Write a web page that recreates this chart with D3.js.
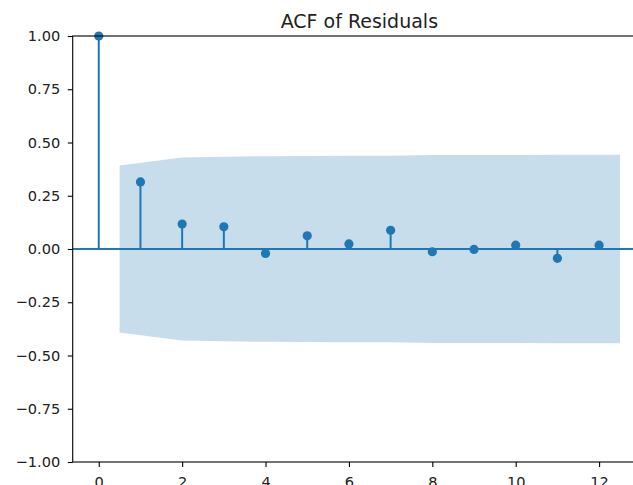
<!DOCTYPE html>
<html>
<head>
<meta charset="utf-8">
<script src="https://cdn.jsdelivr.net/npm/d3@7"></script>
<style>
  body { margin: 0; background: #fff; }
  svg { display: block; font-family: "DejaVu Sans", sans-serif; }
</style>
</head>
<body>
<div id="chart"></div>
<script>
// autocorrelation values
const lags = [0, 1, 2, 3, 4, 5, 6, 7, 8, 9, 10, 11, 12]
const acf = [1.0, 0.315, 0.117, 0.104, -0.021, 0.062, 0.024, 0.088, -0.013, -0.002, 0.018, -0.044, 0.018]
// confidence band half-width (x positions 0.5, 2..11, 12.5)
const bandX = [0.5, 2, 3, 4, 5, 6, 7, 8, 9, 10, 11, 12.5]
const bandHalf = [0.392, 0.430, 0.433, 0.436, 0.437, 0.438, 0.438, 0.441, 0.441, 0.441, 0.442, 0.442]
const yTicks = [-1, -0.75, -0.5, -0.25, 0, 0.25, 0.5, 0.75, 1]
const xTicks = [0, 2, 4, 6, 8, 10, 12]

const W = 633, H = 485
const margin = {top: 36, left: 72.7, bottom: 23, right: -13}
const width = W - margin.left - margin.right
const height = H - margin.top - margin.bottom
const blue = '#1f77b4'

const svg = d3.select('#chart').append('svg')
  .attr('width', W).attr('height', H)

const g = svg.append('g')
  .attr('transform', 'translate(' + margin.left + ',' + margin.top + ')')

const x = d3.scaleLinear().domain([-0.625, 13.125]).range([0, width])
const y = d3.scaleLinear().domain([-1, 1]).range([height, 0])

// stems
g.selectAll('line.stem').data(lags).enter().append('line')
  .attr('class', 'stem')
  .attr('x1', d => x(d)).attr('x2', d => x(d))
  .attr('y1', y(0)).attr('y2', (d, i) => y(acf[i]))
  .attr('stroke', blue).attr('stroke-width', 2)

// zero line
g.append('line')
  .attr('x1', 0).attr('x2', width)
  .attr('y1', y(0)).attr('y2', y(0))
  .attr('stroke', blue).attr('stroke-width', 2)

// markers
g.selectAll('circle').data(lags).enter().append('circle')
  .attr('cx', d => x(d)).attr('cy', (d, i) => y(acf[i]))
  .attr('r', 4.6).attr('fill', blue)

// confidence band
const area = d3.area()
  .x((d, i) => x(d))
  .y0((d, i) => y(-bandHalf[i]))
  .y1((d, i) => y(bandHalf[i]))
g.append('path').datum(bandX)
  .attr('d', area)
  .attr('fill', blue).attr('fill-opacity', 0.25)

// axes
const xAxis = g.append('g')
  .attr('transform', 'translate(0,' + height + ')')
  .call(d3.axisBottom(x).tickValues(xTicks).tickSize(4.9).tickPadding(10).tickFormat(d3.format('d')))
const yAxis = g.append('g')
  .call(d3.axisLeft(y).tickValues(yTicks).tickSize(4.9).tickPadding(7.5)
    .tickFormat(d => d3.format('.2f')(d).replace('-', '\u2212')))

;[xAxis, yAxis].forEach(a => {
  a.select('.domain').remove()
  a.selectAll('.tick line').attr('stroke', '#000').attr('stroke-width', 1.1)
  a.selectAll('.tick text').attr('font-size', 14.6).attr('fill', '#222')
    .attr('font-family', '"DejaVu Sans", sans-serif')
})

// spines
g.append('rect')
  .attr('x', 0).attr('y', 0).attr('width', width).attr('height', height)
  .attr('fill', 'none').attr('stroke', '#000').attr('stroke-width', 1.1)

// title
svg.append('text')
  .attr('x', margin.left + width / 2).attr('y', margin.top - 8.5)
  .attr('text-anchor', 'middle')
  .attr('font-size', 19)
  .attr('fill', '#222')
  .text('ACF of Residuals')
</script>
</body>
</html>
